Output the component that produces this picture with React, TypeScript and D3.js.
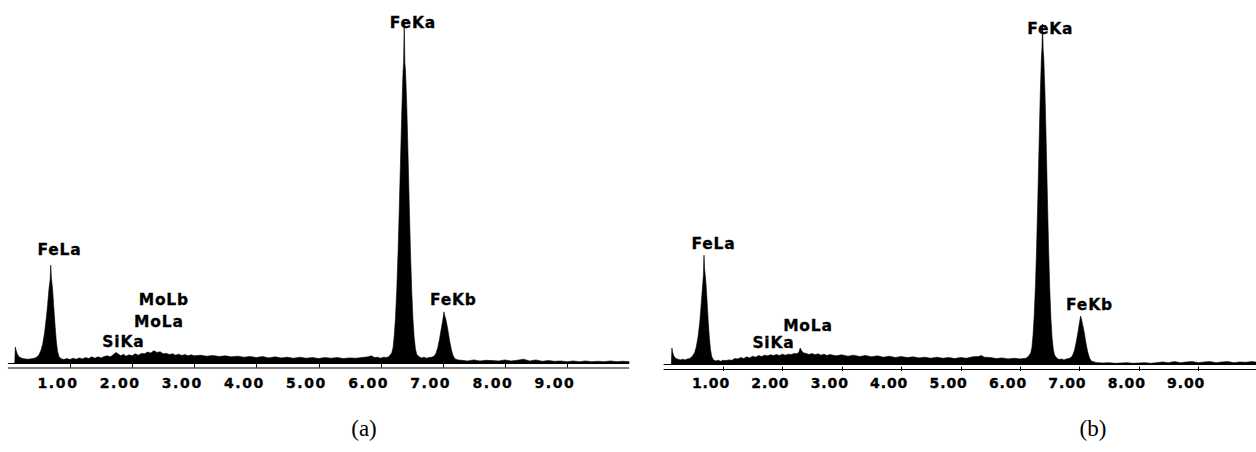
import React, { useEffect, useRef } from 'react';
import * as d3 from 'd3';

// energy axis ticks (keV)
const TICKS = [1, 2, 3, 4, 5, 6, 7, 8, 9];

// spectrum (a): [keV, counts]
const SPEC_A: [number, number][] = [
    [0.11, 0], [0.12, 47], [0.13, 38], [0.15, 27], [0.17, 20], [0.20, 16], [0.24, 13], [0.28, 12], [0.32, 11], [0.36, 12], [0.40, 13], [0.44, 15], [0.47, 18],
    [0.50, 24], [0.53, 36], [0.56, 55], [0.59, 88], [0.62, 135], [0.64, 172], [0.66, 215], [0.68, 245], [0.69, 287], [0.70, 250], [0.72, 215], [0.74, 160], [0.76, 108], [0.78, 62], [0.80, 34], [0.82, 20], [0.85, 13],
    [0.90, 10], [0.95, 13], [1.00, 10], [1.05, 14], [1.10, 11], [1.15, 15], [1.20, 12], [1.25, 16], [1.30, 13], [1.35, 18], [1.40, 14], [1.45, 18], [1.50, 15], [1.55, 19], [1.60, 21], [1.65, 18],
    [1.70, 25], [1.74, 31], [1.78, 26], [1.82, 21], [1.86, 26], [1.90, 20], [1.95, 24], [2.00, 21], [2.05, 27], [2.10, 23], [2.15, 28], [2.20, 27], [2.25, 32], [2.30, 29], [2.35, 36], [2.40, 31],
    [2.45, 33], [2.50, 27], [2.55, 28], [2.60, 25], [2.65, 27], [2.70, 23], [2.75, 26], [2.80, 22], [2.85, 25], [2.90, 21], [2.95, 24], [3.00, 21], [3.10, 23], [3.20, 20], [3.30, 22], [3.40, 19],
    [3.50, 21], [3.60, 18], [3.70, 20], [3.80, 17], [3.90, 19], [4.00, 16], [4.10, 19], [4.20, 15], [4.30, 18], [4.40, 15], [4.50, 17], [4.60, 14], [4.70, 17], [4.80, 14], [4.90, 16], [5.00, 13],
    [5.10, 16], [5.20, 14], [5.30, 16], [5.40, 13], [5.50, 15], [5.60, 14], [5.70, 16], [5.80, 18], [5.85, 21], [5.90, 16], [5.95, 17], [6.00, 14], [6.05, 17], [6.10, 16],
    [6.14, 20], [6.18, 30], [6.20, 45], [6.22, 80], [6.24, 135], [6.26, 215], [6.28, 320], [6.30, 450], [6.32, 590], [6.34, 730], [6.36, 850], [6.37, 880], [6.38, 1000], [6.39, 880], [6.40, 860],
    [6.42, 760], [6.44, 620], [6.46, 470], [6.48, 330], [6.50, 215], [6.52, 130], [6.54, 75], [6.56, 42], [6.58, 26], [6.62, 18],
    [6.66, 15], [6.70, 17], [6.74, 14], [6.78, 16], [6.82, 17],
    [6.86, 20], [6.89, 28], [6.92, 45], [6.95, 72], [6.98, 104], [7.00, 125], [7.02, 150], [7.03, 140], [7.05, 128], [7.08, 100], [7.11, 66], [7.14, 38], [7.17, 20], [7.20, 12], [7.25, 9],
    [7.30, 8], [7.40, 6], [7.50, 9], [7.60, 6], [7.70, 8], [7.80, 7], [7.90, 6], [8.00, 9], [8.10, 6], [8.20, 8], [8.30, 11], [8.40, 6], [8.50, 9], [8.60, 5], [8.70, 7], [8.80, 5],
    [8.90, 6], [9.00, 4], [9.10, 6], [9.20, 4], [9.30, 6], [9.40, 4], [9.50, 5], [9.60, 4], [9.70, 6], [9.80, 4], [9.90, 5], [10.00, 4],
];

// spectrum (b): [keV, counts]
const SPEC_B: [number, number][] = [
    [0.13, 0], [0.14, 47], [0.15, 36], [0.17, 24], [0.20, 17], [0.24, 14], [0.28, 12], [0.32, 14], [0.36, 12], [0.40, 15], [0.44, 16],
    [0.48, 22], [0.52, 32], [0.55, 50], [0.58, 80], [0.61, 125], [0.63, 170], [0.65, 215], [0.67, 262], [0.68, 320], [0.69, 280], [0.71, 245], [0.73, 190], [0.75, 130], [0.77, 78], [0.79, 42], [0.81, 22], [0.84, 12],
    [0.88, 9], [0.92, 11], [0.96, 8], [1.00, 11], [1.05, 10], [1.10, 12], [1.15, 11], [1.20, 16], [1.25, 15], [1.30, 19], [1.35, 16], [1.40, 21], [1.45, 18], [1.50, 23], [1.55, 20], [1.60, 25],
    [1.65, 22], [1.70, 26], [1.75, 24], [1.80, 27], [1.85, 25], [1.90, 28], [1.95, 25], [2.00, 29], [2.05, 26], [2.10, 29], [2.15, 28], [2.20, 31], [2.25, 30], [2.28, 36], [2.30, 47], [2.32, 40],
    [2.35, 33], [2.40, 31], [2.45, 28], [2.50, 31], [2.55, 27], [2.60, 30], [2.65, 26], [2.70, 29], [2.75, 25], [2.80, 28], [2.90, 24], [3.00, 27], [3.10, 23], [3.20, 26], [3.30, 22], [3.40, 25],
    [3.50, 21], [3.60, 24], [3.70, 20], [3.80, 23], [3.90, 19], [4.00, 22], [4.10, 19], [4.20, 21], [4.30, 18], [4.40, 20], [4.50, 17], [4.60, 20], [4.70, 17], [4.80, 19], [4.90, 16], [5.00, 19],
    [5.10, 17], [5.20, 21], [5.30, 22], [5.35, 25], [5.40, 20], [5.50, 19], [5.60, 16], [5.70, 18], [5.80, 15], [5.90, 17], [6.00, 15], [6.10, 17],
    [6.14, 22], [6.18, 32], [6.20, 48], [6.22, 85], [6.24, 145], [6.26, 230], [6.28, 345], [6.30, 485], [6.32, 635], [6.34, 785], [6.36, 900], [6.37, 930], [6.38, 1000], [6.39, 925], [6.40, 900],
    [6.42, 800], [6.44, 660], [6.46, 500], [6.48, 350], [6.50, 225], [6.52, 135], [6.54, 78], [6.56, 44], [6.58, 27], [6.62, 17],
    [6.66, 13], [6.70, 15], [6.74, 12], [6.78, 15], [6.82, 16],
    [6.86, 19], [6.89, 27], [6.92, 42], [6.95, 68], [6.98, 98], [7.00, 120], [7.02, 141], [7.03, 135], [7.05, 120], [7.08, 94], [7.11, 62], [7.14, 35], [7.17, 18], [7.20, 9], [7.25, 6],
    [7.30, 4], [7.40, 3], [7.50, 4], [7.60, 2], [7.70, 3], [7.80, 4], [7.90, 2], [8.00, 3], [8.10, 4], [8.20, 2], [8.30, 4], [8.40, 6], [8.50, 4], [8.60, 7], [8.70, 4], [8.80, 6],
    [8.90, 7], [9.00, 4], [9.10, 6], [9.20, 7], [9.30, 4], [9.40, 6], [9.50, 7], [9.60, 4], [9.70, 6], [9.80, 5], [9.90, 7], [10.00, 5],
];

// peak annotations: [label, keV, counts level]
const PEAKS_A: [string, number, number][] = [
    ['FeKa', 6.52, 982], ['FeLa', 0.83, 317], ['MoLb', 2.51, 170], ['MoLa', 2.43, 106], ['SiKa', 1.86, 47], ['FeKb', 7.17, 170],
];
const PEAKS_B: [string, number, number][] = [
    ['FeKa', 6.51, 971], ['FeLa', 0.84, 338], ['MoLa', 2.43, 97], ['SiKa', 1.85, 47], ['FeKb', 7.17, 159],
];

const PANELS = [
    { spec: SPEC_A, peaks: PEAKS_A, caption: '(a)', left: 7.9, right: 629.1, base: 363, top: 22, axisY: 367.5, tickTop: 363, tickBottom: 367.5, tickSpacing: 1.6, capX: 364 },
    { spec: SPEC_B, peaks: PEAKS_B, caption: '(b)', left: 663.6, right: 1257.6, base: 364, top: 24, axisY: 369, tickTop: 366.5, tickBottom: 371, tickSpacing: 0.9, capX: 1093 },
];

const App = () => {
    const ref = useRef<SVGSVGElement>(null);

    useEffect(() => {
        const svg = d3.select(ref.current);
        svg.selectAll('*').remove();
        const fmt = d3.format('.2f');

        PANELS.forEach((p) => {
            const x = d3.scaleLinear().domain([0, 10]).range([p.left, p.right]);
            const y = d3.scaleLinear().domain([0, 1000]).range([p.base, p.top]);
            const g = svg.append('g');

            const area = d3.area<[number, number]>()
                .x(d => x(d[0]))
                .y0(y(0))
                .y1(d => y(d[1]));

            g.append('path')
                .datum(p.spec)
                .attr('d', area)
                .attr('fill', '#000')
                .attr('stroke', '#000')
                .attr('stroke-width', 0.6)
                .attr('stroke-linejoin', 'miter');

            // double axis line
            g.append('line')
                .attr('x1', x(0)).attr('x2', x(10))
                .attr('y1', y(0) + 0.5).attr('y2', y(0) + 0.5)
                .attr('stroke', '#000').attr('stroke-width', 1);
            g.append('line')
                .attr('x1', x(0)).attr('x2', x(10))
                .attr('y1', p.axisY + 0.5).attr('y2', p.axisY + 0.5)
                .attr('stroke', '#000').attr('stroke-width', 1);

            g.selectAll('.tick')
                .data(TICKS)
                .join('line')
                .attr('class', 'tick')
                .attr('x1', d => Math.round(x(d)) + 0.5).attr('x2', d => Math.round(x(d)) + 0.5)
                .attr('y1', p.tickTop).attr('y2', p.tickBottom)
                .attr('stroke', '#000').attr('stroke-width', 1);

            g.selectAll('.ticklabel')
                .data(TICKS)
                .join('text')
                .attr('class', 'ticklabel')
                .attr('x', d => x(d) - 12)
                .attr('y', 388)
                .attr('text-anchor', 'middle')
                .attr('font-family', 'DejaVu Sans, sans-serif')
                .attr('font-weight', 'bold')
                .attr('font-size', 14)
                .attr('letter-spacing', p.tickSpacing)
                .attr('stroke', '#000')
                .attr('stroke-width', 0.35)
                .text(d => fmt(d));

            g.selectAll('.peak')
                .data(p.peaks)
                .join('text')
                .attr('class', 'peak')
                .attr('x', d => x(d[1]))
                .attr('y', d => y(d[2]))
                .attr('text-anchor', 'middle')
                .attr('font-family', 'DejaVu Sans, sans-serif')
                .attr('font-weight', 'bold')
                .attr('font-size', 15.5)
                .attr('letter-spacing', 0.8)
                .attr('stroke', '#000')
                .attr('stroke-width', 0.3)
                .text(d => d[0]);

            g.append('text')
                .attr('x', p.capX)
                .attr('y', 436)
                .attr('text-anchor', 'middle')
                .attr('font-family', 'Liberation Serif, Times New Roman, serif')
                .attr('font-size', 23)
                .text(p.caption);
        });
    }, []);

    return (
        <svg ref={ref} width={1256} height={452}
            style={{ position: 'absolute', left: 0, top: 0, background: '#fff' }} />
    );
};

export default App;
